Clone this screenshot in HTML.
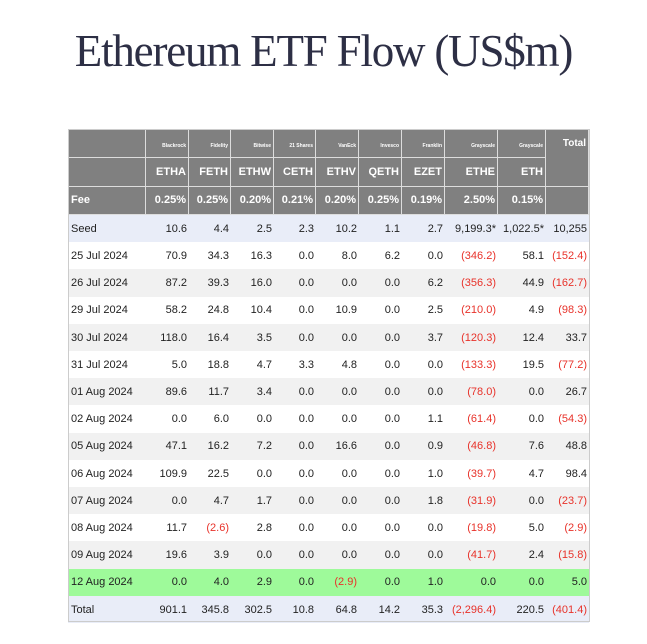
<!DOCTYPE html>
<html><head><meta charset="utf-8"><style>
body{margin:0;width:647px;height:644px;background:#fff;overflow:hidden;position:relative;font-family:"Liberation Sans",sans-serif}
#title{position:absolute;left:0;top:25px;width:647px;text-align:center;font-family:"Liberation Serif",serif;font-size:45px;color:#2d2f45;letter-spacing:-1.2px;white-space:nowrap}
#tbl{position:absolute;left:0;top:0;width:647px;height:644px}
.c{position:absolute;box-sizing:border-box;padding:0 2px;font-size:11px;color:#222;text-align:right;white-space:nowrap;overflow:visible;display:flex;align-items:center;justify-content:flex-end}
.c.l{justify-content:flex-start;padding-left:3px}
.h{background:#808080;color:#fff;font-weight:bold;border-right:1px solid #ddd;border-bottom:1px solid #ddd;overflow:hidden}
.sm{font-size:5px;align-items:flex-start;padding-top:13px}
.neg{color:#e8322a}
#frame{position:absolute;left:68px;top:129px;width:522px;height:493px;border:1px solid #ccc;box-sizing:border-box;pointer-events:none}
</style></head><body>
<div id="title">Ethereum ETF Flow (US$m)</div>
<div id="tbl"></div>
<div id="frame"></div>
<script>
const issuers=["","Blackrock","Fidelity","Bitwise","21 Shares","VanEck","Invesco","Franklin","Grayscale","Grayscale",""];
const tickers=["","ETHA","FETH","ETHW","CETH","ETHV","QETH","EZET","ETHE","ETH",""];
const fees=["Fee","0.25%","0.25%","0.20%","0.21%","0.20%","0.25%","0.19%","2.50%","0.15%",""];
const dates=["Seed","25 Jul 2024","26 Jul 2024","29 Jul 2024","30 Jul 2024","31 Jul 2024","01 Aug 2024","02 Aug 2024","05 Aug 2024","06 Aug 2024","07 Aug 2024","08 Aug 2024","09 Aug 2024","12 Aug 2024","Total"];
const values=[
["10.6","4.4","2.5","2.3","10.2","1.1","2.7","9,199.3*","1,022.5*","10,255"],
["70.9","34.3","16.3","0.0","8.0","6.2","0.0","(346.2)","58.1","(152.4)"],
["87.2","39.3","16.0","0.0","0.0","0.0","6.2","(356.3)","44.9","(162.7)"],
["58.2","24.8","10.4","0.0","10.9","0.0","2.5","(210.0)","4.9","(98.3)"],
["118.0","16.4","3.5","0.0","0.0","0.0","3.7","(120.3)","12.4","33.7"],
["5.0","18.8","4.7","3.3","4.8","0.0","0.0","(133.3)","19.5","(77.2)"],
["89.6","11.7","3.4","0.0","0.0","0.0","0.0","(78.0)","0.0","26.7"],
["0.0","6.0","0.0","0.0","0.0","0.0","1.1","(61.4)","0.0","(54.3)"],
["47.1","16.2","7.2","0.0","16.6","0.0","0.9","(46.8)","7.6","48.8"],
["109.9","22.5","0.0","0.0","0.0","0.0","1.0","(39.7)","4.7","98.4"],
["0.0","4.7","1.7","0.0","0.0","0.0","1.8","(31.9)","0.0","(23.7)"],
["11.7","(2.6)","2.8","0.0","0.0","0.0","0.0","(19.8)","5.0","(2.9)"],
["19.6","3.9","0.0","0.0","0.0","0.0","0.0","(41.7)","2.4","(15.8)"],
["0.0","4.0","2.9","0.0","(2.9)","0.0","1.0","0.0","0.0","5.0"],
["901.1","345.8","302.5","10.8","64.8","14.2","35.3","(2,296.4)","220.5","(401.4)"]];
const xs=[68,146,189,231,274,316,359,402,445,498,546,589];
const RH=27.2, Y0=215;
const t=document.getElementById('tbl');
function cell(x0,x1,y,h,txt,cls,bg){
  const d=document.createElement('div');
  d.className='c '+cls;
  
  
  d.style.left=x0+'px';d.style.width=(x1-x0)+'px';d.style.top=y+'px';d.style.height=h+'px';
  if(bg)d.style.background=bg;
  d.textContent=txt;t.appendChild(d);return d;
}
[issuers,tickers,fees].forEach((row,r)=>{
  row.forEach((v,i)=>{
    if(i===10&&r<2){ if(r===0){const d=cell(xs[10],xs[11],130,57,'Total','h');d.style.alignItems='flex-start';d.style.paddingTop='8px';d.style.fontSize='10px';} return; }
    cell(xs[i],xs[i+1],130+r*28.3,28.3,v,'h'+(r===0?' sm':'')+(i===0?' l':''));
  });
});
dates.forEach((d,i)=>{
  const y=Y0+i*RH;
  const bg=(i===0||i===dates.length-1)?'#e9edf8':(i===13?'#9efa9a':(i%2===0?'#f1f1f1':'#fff'));
  cell(xs[0],xs[1],y,RH+0.5,d,'l',bg);
  values[i].forEach((v,j)=>{cell(xs[j+1],xs[j+2],y,RH+0.5,v,v.startsWith('(')?'neg':'',bg);});
});
</script>
</body></html>
